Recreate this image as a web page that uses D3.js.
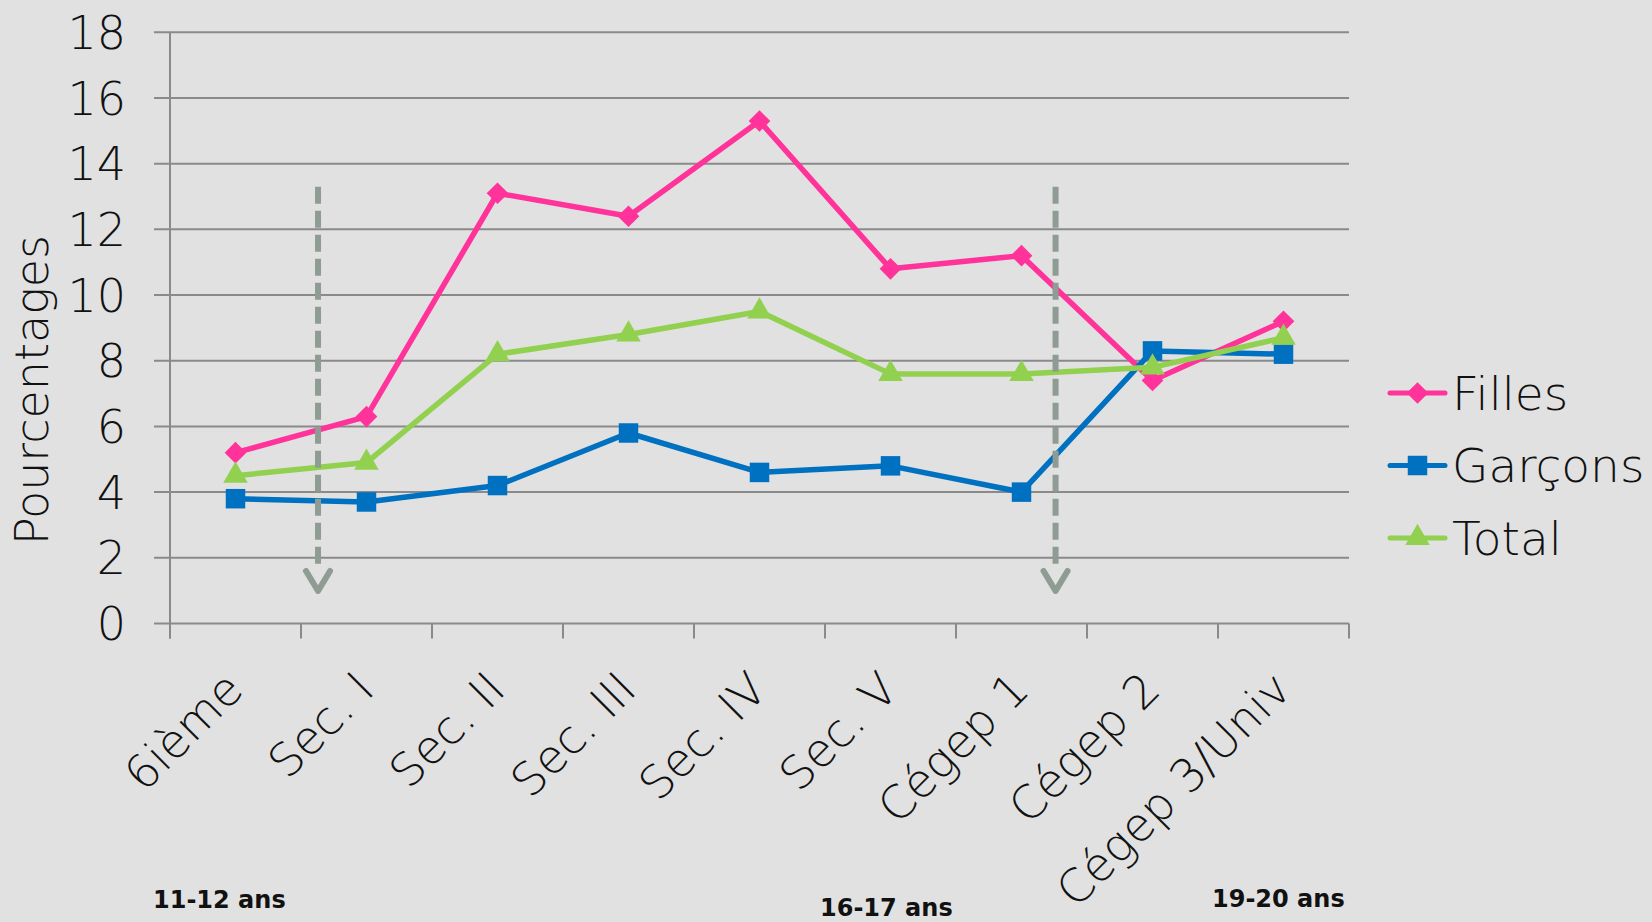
<!DOCTYPE html>
<html>
<head>
<meta charset="utf-8">
<script src="https://cdn.jsdelivr.net/npm/d3@7"></script>
<style>
  body { margin: 0; background: #e1e1e1; }
  svg { display: block; }
  text { font-family: "DejaVu Sans", sans-serif; fill: #111; }
  .fin { font-weight: 200; }
</style>
</head>
<body>
<script>
// niveaux scolaires
const niveaux = ["6ième", "Sec. I", "Sec. II", "Sec. III", "Sec. IV", "Sec. V", "Cégep 1", "Cégep 2", "Cégep 3/Univ"]

const filles  = [5.2, 6.3, 13.1, 12.4, 15.3, 10.8, 11.2, 7.4, 9.2]
const garcons = [3.8, 3.7, 4.2, 5.8, 4.6, 4.8, 4.0, 8.3, 8.2]
const total   = [4.5, 4.9, 8.2, 8.8, 9.5, 7.6, 7.6, 7.8, 8.7]

const ticksY = [0, 2, 4, 6, 8, 10, 12, 14, 16, 18]

// flèches pointillées (position en index de catégorie, de haut en bas)
const fleches = [0.63, 6.26]
const flecheHaut = 13.3
const flecheBas = 0.93

const ages = [
  {txt: "11-12 ans", x: 153, y: 908},
  {txt: "16-17 ans", x: 820, y: 916},
  {txt: "19-20 ans", x: 1212, y: 907}
]

var series = [
  {nom: "Filles", val: filles, couleur: "#ff3399", forme: d3.symbolDiamond2, taille: 300},
  {nom: "Garçons", val: garcons, couleur: "#0070c0", forme: d3.symbolSquare, taille: 380},
  {nom: "Total", val: total, couleur: "#92d050", forme: d3.symbolTriangle, taille: 260}
]

var W = 1652, H = 922
var svg = d3.select("body").append("svg")
    .attr("width", W)
    .attr("height", H)

// EJES
var x = d3.scaleBand().domain(niveaux).range([170, 1349]).paddingInner(0).paddingOuter(0)
var y = d3.scaleLinear().domain([0, 18]).range([623.5, 32.3])
var xi = d3.scaleLinear().domain([0, 1]).range([x(niveaux[0]) + x.bandwidth()/2, x(niveaux[1]) + x.bandwidth()/2])

// quadrillage
svg.append("g").selectAll("line")
    .data(ticksY)
    .join("line")
    .attr("x1", 154).attr("x2", 1349)
    .attr("y1", d => y(d)).attr("y2", d => y(d))
    .attr("stroke", "#8a8a8a")
    .attr("stroke-width", 2)

svg.append("g").selectAll("text")
    .data(ticksY)
    .join("text")
    .attr("class", "fin")
    .attr("x", 126)
    .attr("y", d => y(d))
    .attr("dy", "0.36em")
    .attr("text-anchor", "end")
    .attr("font-size", 46)
    .text(d => d)

// axe vertical
svg.append("line")
    .attr("x1", 170).attr("x2", 170)
    .attr("y1", y(18)).attr("y2", y(0) + 15)
    .attr("stroke", "#8a8a8a").attr("stroke-width", 2)

// graduations de l'axe X (aux limites des catégories)
var bornes = niveaux.map(d => x(d)).concat([x(niveaux[niveaux.length-1]) + x.bandwidth()])
svg.append("g").selectAll("line")
    .data(bornes)
    .join("line")
    .attr("x1", d => d).attr("x2", d => d)
    .attr("y1", y(0)).attr("y2", y(0) + 15)
    .attr("stroke", "#8a8a8a").attr("stroke-width", 2)

svg.append("g").selectAll("text")
    .data(niveaux)
    .join("text")
    .attr("class", "fin")
    .attr("transform", d => "translate(" + (x(d) + x.bandwidth()/2 + 10) + ",692) rotate(-45)")
    .attr("text-anchor", "end")
    .attr("font-size", 46)
    .text(d => d)

// titre Y
svg.append("text")
    .attr("class", "fin")
    .attr("transform", "translate(48,390) rotate(-90)")
    .attr("text-anchor", "middle")
    .attr("font-size", 46)
    .text("Pourcentages")

// Líneas
series.forEach(function(s) {
    var linea = d3.line()
        .x((d, i) => x(niveaux[i]) + x.bandwidth()/2)
        .y(d => y(d))
    svg.append("path")
        .datum(s.val)
        .attr("fill", "none")
        .attr("stroke", s.couleur)
        .attr("stroke-width", 5.5)
        .attr("stroke-linejoin", "round")
        .attr("d", linea)
    svg.append("g").selectAll("path")
        .data(s.val)
        .join("path")
        .attr("transform", (d, i) => "translate(" + (x(niveaux[i]) + x.bandwidth()/2) + "," + y(d) + ")")
        .attr("d", d3.symbol().type(s.forme).size(s.taille))
        .attr("fill", s.couleur)
})

// flèches
fleches.forEach(function(f) {
    var fx = xi(f)
    svg.append("line")
        .attr("x1", fx).attr("x2", fx)
        .attr("y1", y(flecheHaut)).attr("y2", y(flecheBas) - 26)
        .attr("stroke", "#8f9c93")
        .attr("stroke-width", 6)
        .attr("stroke-dasharray", "17,7")
    svg.append("path")
        .attr("d", "M" + (fx - 12) + "," + (y(flecheBas) - 22) + " L" + fx + "," + (y(flecheBas) - 2) + " L" + (fx + 12) + "," + (y(flecheBas) - 22))
        .attr("fill", "none")
        .attr("stroke", "#8f9c93")
        .attr("stroke-width", 6)
        .attr("stroke-linecap", "round")
        .attr("stroke-linejoin", "round")
})

// légende
var leg = svg.append("g").selectAll("g")
    .data(series)
    .join("g")
    .attr("transform", (d, i) => "translate(1390," + (393 + i * 72.5) + ")")
leg.append("line")
    .attr("x1", 0).attr("x2", 55)
    .attr("stroke", d => d.couleur)
    .attr("stroke-width", 5)
    .attr("stroke-linecap", "round")
leg.append("path")
    .attr("transform", "translate(27.5,0)")
    .attr("d", d => d3.symbol().type(d.forme).size(d.taille)())
    .attr("fill", d => d.couleur)
leg.append("text")
    .attr("class", "fin")
    .attr("x", 62)
    .attr("dy", "0.36em")
    .attr("font-size", 47)
    .text(d => d.nom)

// âges
svg.append("g").selectAll("text")
    .data(ages)
    .join("text")
    .attr("x", d => d.x)
    .attr("y", d => d.y)
    .attr("font-size", 24)
    .attr("font-weight", "bold")
    .text(d => d.txt)
</script>
</body>
</html>
